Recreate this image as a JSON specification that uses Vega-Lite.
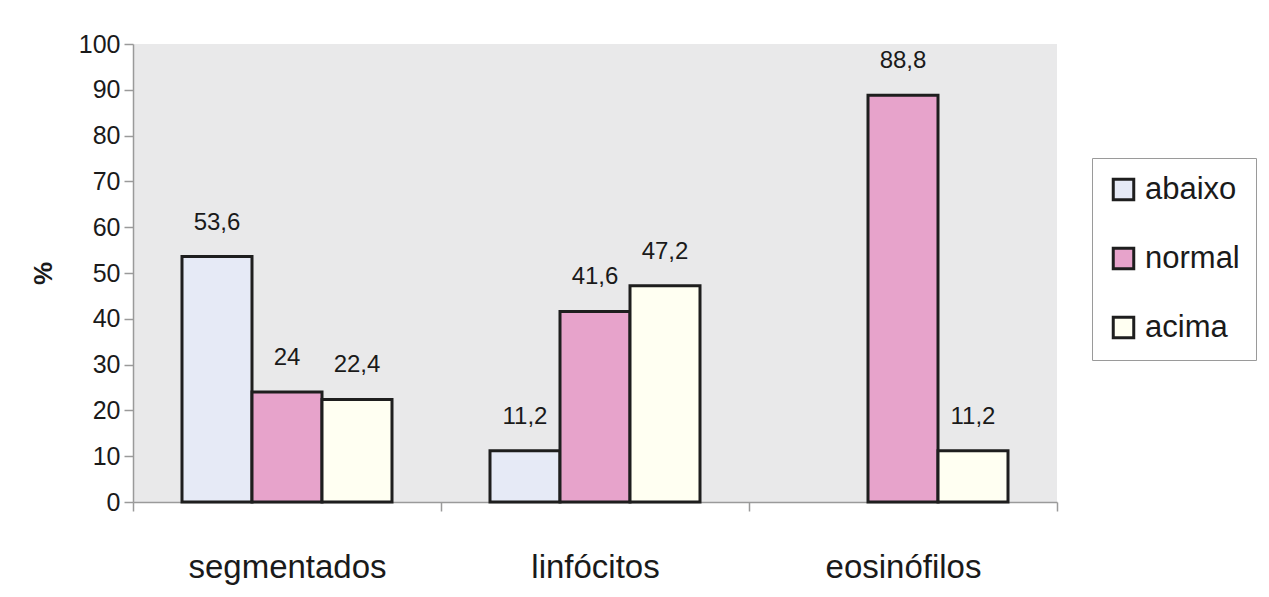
{
  "$schema": "https://vega.github.io/schema/vega-lite/v6.json",
  "width": 924,
  "height": 458,
  "autosize": {"type": "none"},
  "padding": {"left": 133, "top": 44, "right": 212, "bottom": 95},
  "background": "#ffffff",
  "data": {
    "values": [
      {"cat": "segmentados", "grupo": "abaixo", "valor": 53.6},
      {"cat": "segmentados", "grupo": "normal", "valor": 24},
      {"cat": "segmentados", "grupo": "acima", "valor": 22.4},
      {"cat": "linfócitos", "grupo": "abaixo", "valor": 11.2},
      {"cat": "linfócitos", "grupo": "normal", "valor": 41.6},
      {"cat": "linfócitos", "grupo": "acima", "valor": 47.2},
      {"cat": "eosinófilos", "grupo": "abaixo", "valor": 0},
      {"cat": "eosinófilos", "grupo": "normal", "valor": 88.8},
      {"cat": "eosinófilos", "grupo": "acima", "valor": 11.2}
    ]
  },
  "encoding": {
    "x": {
      "field": "cat", "type": "nominal",
      "sort": ["segmentados", "linfócitos", "eosinófilos"],
      "scale": {"paddingInner": 0, "paddingOuter": 0},
      "axis": {
        "title": null, "labelAngle": 0, "labelFontSize": 33, "labelFont": "Liberation Sans",
        "labelColor": "#1a1a1a", "labelPadding": 40, "labelLimit": 400, "tickBand": "extent", "tickSize": 9,
        "tickColor": "#9a9a9a", "domainColor": "#9a9a9a", "tickWidth": 1.5, "domainWidth": 1.5
      }
    },
    "xOffset": {
      "field": "grupo", "type": "nominal",
      "sort": ["abaixo", "normal", "acima"],
      "scale": {"paddingInner": 0, "paddingOuter": 0.7}
    },
    "y": {
      "field": "valor", "type": "quantitative",
      "scale": {"domain": [0, 100], "nice": false},
      "axis": {
        "title": "%", "titleFontSize": 26, "titleFont": "Liberation Sans", "titleFontWeight": "bold",
        "titleColor": "#1a1a1a", "titlePadding": 22,
        "values": [0, 10, 20, 30, 40, 50, 60, 70, 80, 90, 100],
        "labelFontSize": 25, "labelFont": "Liberation Sans", "labelColor": "#1a1a1a",
        "labelPadding": 4, "tickSize": 9, "tickColor": "#9a9a9a", "domainColor": "#9a9a9a",
        "tickWidth": 1.5, "domainWidth": 1.5, "grid": false
      }
    }
  },
  "layer": [
    {
      "transform": [{"filter": "datum.valor > 0"}],
      "mark": {"type": "bar", "stroke": "#1e1e1e", "strokeWidth": 3},
      "encoding": {
        "color": {
          "field": "grupo", "type": "nominal",
          "sort": ["abaixo", "normal", "acima"],
          "scale": {"domain": ["abaixo", "normal", "acima"], "range": ["#e6eaf6", "#e7a3cb", "#fffff2"]},
          "legend": {
            "title": null, "orient": "none", "legendX": 959, "legendY": 114,
            "symbolType": "square", "symbolSize": 420, "symbolStrokeColor": "#1e1e1e",
            "symbolStrokeWidth": 3, "labelFontSize": 31, "labelFont": "Liberation Sans",
            "labelColor": "#1a1a1a", "rowPadding": 36, "padding": 16, "labelOffset": 6,
            "strokeColor": "#9a9a9a", "fillColor": "#ffffff", "labelLimit": 300
          }
        }
      }
    },
    {
      "transform": [{"filter": "datum.valor > 0"}],
      "mark": {"type": "text", "baseline": "alphabetic", "dy": -27, "fontSize": 24, "font": "Liberation Sans", "color": "#1a1a1a"},
      "encoding": {
        "text": {"field": "valor", "type": "quantitative", "format": ".1~f"}
      }
    }
  ],
  "config": {
    "view": {"fill": "#e9e9ea", "stroke": null},
    "locale": {"number": {"decimal": ",", "thousands": ".", "grouping": [3], "currency": ["", ""]}}
  }
}
